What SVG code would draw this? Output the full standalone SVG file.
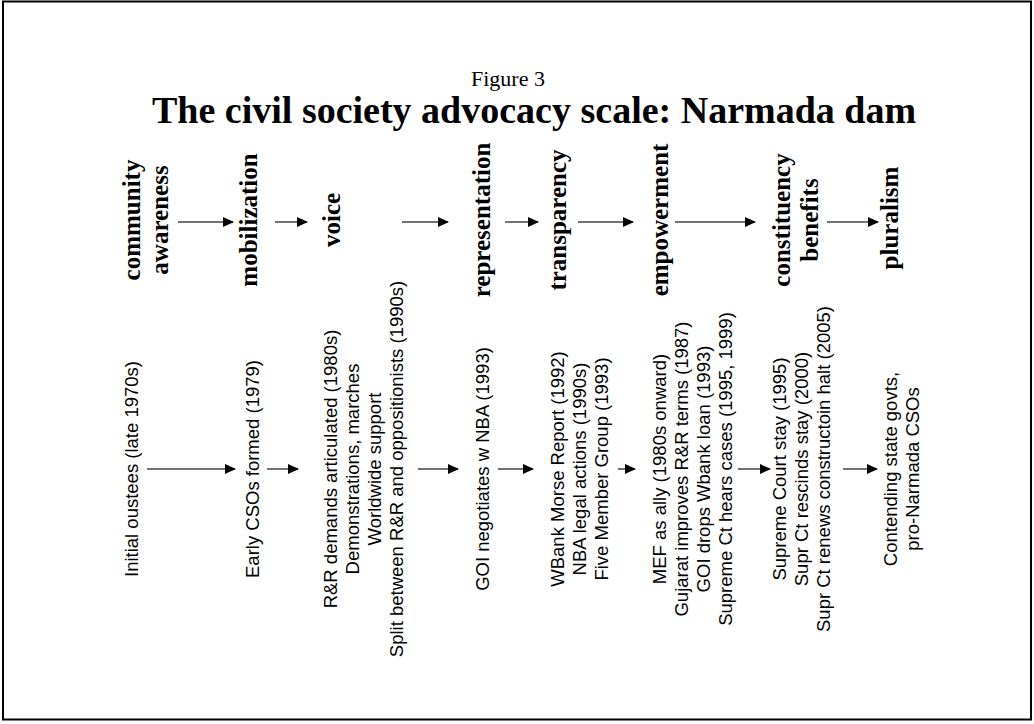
<svg xmlns="http://www.w3.org/2000/svg" width="1034" height="724" viewBox="0 0 1034 724">
  <style>
    .fig { font-family: "Liberation Serif", "Times New Roman", serif; font-size: 22px; fill: #000; text-anchor: middle; }
    .title { font-family: "Liberation Serif", "Times New Roman", serif; font-size: 38px; font-weight: bold; fill: #000; }
    .stage { font-family: "Liberation Serif", "Times New Roman", serif; font-size: 25px; font-weight: bold; fill: #000; text-anchor: middle; }
    .event { font-family: "Liberation Sans", Arial, sans-serif; font-size: 18.5px; fill: #000; text-anchor: middle; }
    .arrow { stroke: #444; stroke-width: 1.5; fill: none; marker-end: url(#head); }
  </style>
  <defs>
    <marker id="head" markerUnits="userSpaceOnUse" markerWidth="11" markerHeight="10" refX="10" refY="5" orient="auto">
      <path d="M0,0 L11,5 L0,10 z" fill="#000"/>
    </marker>
  </defs>

  <rect x="0" y="0" width="1034" height="724" fill="#fff"/>
  <rect x="3" y="1.5" width="1028" height="718" fill="none" stroke="#000" stroke-width="2"/>

  <text class="fig" x="508" y="86">Figure 3</text>
  <text class="title" x="152" y="123">The civil society advocacy scale: Narmada dam</text>

  <!-- upper row: stages of the scale -->
  <g id="stage-community-awareness">
    <text class="stage" transform="translate(140,220) rotate(-90)"><tspan x="0" y="0">community</tspan><tspan x="0" dy="28">awareness</tspan></text>
  </g>
  <g id="stage-mobilization">
    <text class="stage" transform="translate(257,220) rotate(-90)">mobilization</text>
  </g>
  <g id="stage-voice">
    <text class="stage" transform="translate(340,220) rotate(-90)">voice</text>
  </g>
  <g id="stage-representation">
    <text class="stage" transform="translate(490,220) rotate(-90)">representation</text>
  </g>
  <g id="stage-transparency">
    <text class="stage" transform="translate(566,220) rotate(-90)">transparency</text>
  </g>
  <g id="stage-empowerment">
    <text class="stage" transform="translate(668,220) rotate(-90)">empowerment</text>
  </g>
  <g id="stage-constituency-benefits">
    <text class="stage" transform="translate(790,220) rotate(-90)"><tspan x="0" y="0">constituency</tspan><tspan x="0" dy="28">benefits</tspan></text>
  </g>
  <g id="stage-pluralism">
    <text class="stage" transform="translate(898,218) rotate(-90)">pluralism</text>
  </g>

  <!-- lower row: Narmada events for each stage -->
  <g id="event-oustees">
    <text class="event" transform="translate(138,469) rotate(-90)">Initial oustees (late 1970s)</text>
  </g>
  <g id="event-early-csos">
    <text class="event" transform="translate(259,469) rotate(-90)">Early CSOs formed (1979)</text>
  </g>
  <g id="event-voice">
    <text class="event" transform="translate(337,469) rotate(-90)"><tspan x="0" y="0">R&amp;R demands articulated (1980s)</tspan><tspan x="0" dy="22">Demonstrations, marches</tspan><tspan x="0" dy="22">Worldwide support</tspan><tspan x="0" dy="22">Split between R&amp;R and oppositionists (1990s)</tspan></text>
  </g>
  <g id="event-goi">
    <text class="event" transform="translate(489,469) rotate(-90)">GOI negotiates w NBA (1993)</text>
  </g>
  <g id="event-wbank">
    <text class="event" transform="translate(564,469) rotate(-90)"><tspan x="0" y="0">WBank Morse Report (1992)</tspan><tspan x="0" dy="22">NBA legal actions (1990s)</tspan><tspan x="0" dy="22">Five Member Group (1993)</tspan></text>
  </g>
  <g id="event-mef">
    <text class="event" transform="translate(666,469) rotate(-90)"><tspan x="0" y="0">MEF as ally (1980s onward)</tspan><tspan x="0" dy="22">Gujarat improves R&amp;R terms (1987)</tspan><tspan x="0" dy="22">GOI drops Wbank loan (1993)</tspan><tspan x="0" dy="22">Supreme Ct hears cases (1995, 1999)</tspan></text>
  </g>
  <g id="event-supreme-court">
    <text class="event" transform="translate(786,469) rotate(-90)"><tspan x="0" y="0">Supreme Court stay (1995)</tspan><tspan x="0" dy="22">Supr Ct rescinds stay (2000)</tspan><tspan x="0" dy="22">Supr Ct renews constructoin halt (2005)</tspan></text>
  </g>
  <g id="event-contending">
    <text class="event" transform="translate(897,469) rotate(-90)"><tspan x="0" y="0">Contending state govts,</tspan><tspan x="0" dy="22">pro-Narmada CSOs</tspan></text>
  </g>

  <g id="connectors">
    <line class="arrow" x1="178" y1="222" x2="233" y2="222"/>
    <line class="arrow" x1="275" y1="222" x2="307" y2="222"/>
    <line class="arrow" x1="402" y1="222" x2="448" y2="222"/>
    <line class="arrow" x1="505" y1="222" x2="538" y2="222"/>
    <line class="arrow" x1="578" y1="222" x2="633" y2="222"/>
    <line class="arrow" x1="675" y1="222" x2="755" y2="222"/>
    <line class="arrow" x1="827" y1="222" x2="878" y2="222"/>

    <line class="arrow" x1="147" y1="469" x2="235" y2="469"/>
    <line class="arrow" x1="267" y1="469" x2="298" y2="469"/>
    <line class="arrow" x1="418" y1="469" x2="458" y2="469"/>
    <line class="arrow" x1="498" y1="469" x2="533" y2="469"/>
    <line class="arrow" x1="618" y1="469" x2="635" y2="469"/>
    <line class="arrow" x1="738" y1="469" x2="770" y2="469"/>
    <line class="arrow" x1="843" y1="469" x2="877" y2="469"/>
  </g>
</svg>
